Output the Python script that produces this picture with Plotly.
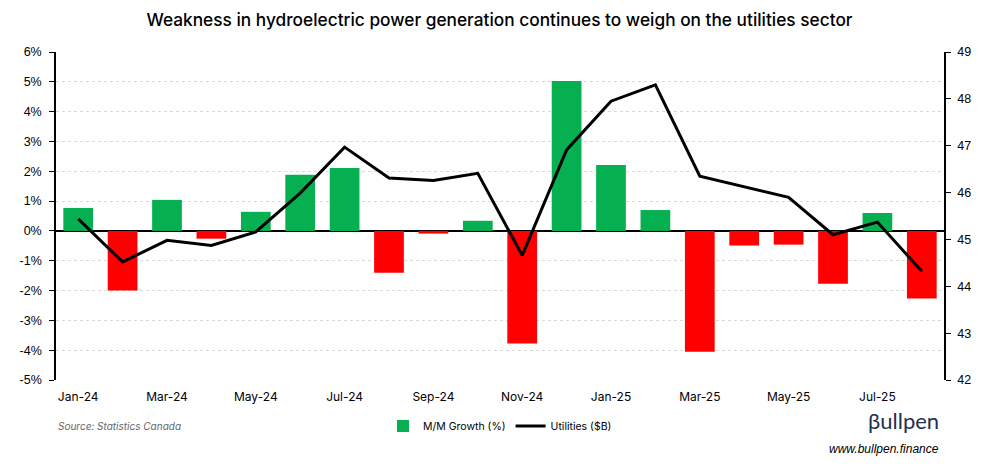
import plotly.graph_objects as go

months = ["Jan-24", "Feb-24", "Mar-24", "Apr-24", "May-24", "Jun-24", "Jul-24", "Aug-24",
          "Sep-24", "Oct-24", "Nov-24", "Dec-24", "Jan-25", "Feb-25", "Mar-25", "Apr-25",
          "May-25", "Jun-25", "Jul-25", "Aug-25"]
mm_growth = [0.77, -2.00, 1.04, -0.26, 0.64, 1.88, 2.11, -1.40, -0.09, 0.34,
             -3.78, 5.03, 2.21, 0.70, -4.05, -0.49, -0.46, -1.77, 0.60, -2.27]
utilities = [45.44, 44.52, 44.98, 44.87, 45.16, 45.99, 46.97, 46.31, 46.26, 46.41,
             44.66, 46.91, 47.95, 48.30, 46.35, 46.12, 45.90, 45.10, 45.37, 44.32]
tick_labels = months[::2]
left_ticks = list(range(-5, 7))
right_ticks = list(range(42, 50))

GREEN = "#06B050"
RED = "#FF0000"
bar_colors = [GREEN if v >= 0 else RED for v in mm_growth]

fig = go.Figure()
fig.add_trace(go.Bar(x=months, y=mm_growth, name="M/M Growth (%)",
                     marker=dict(color=bar_colors, line=dict(width=0)),
                     yaxis="y"))
fig.add_trace(go.Scatter(x=months, y=utilities, name="Utilities ($B)", mode="lines",
                         line=dict(color="black", width=3), yaxis="y2"))

fig.update_layout(
    width=983, height=463,
    margin=dict(l=41, r=47, t=44, b=91),
    paper_bgcolor="white", plot_bgcolor="white",
    bargap=0.33,
    title=dict(text="Weakness in hydroelectric power generation continues to weigh on the utilities sector",
               x=0.5, xanchor="center", y=0.974, yanchor="middle",
               font=dict(family="Inter", size=17.3, color="black", weight=500)),
    xaxis=dict(type="category", tickmode="array", tickvals=tick_labels, ticktext=tick_labels,
               showgrid=False, showline=False, ticks="", ticklen=0, ticklabelstandoff=8,
               tickfont=dict(family="Inter", size=12, color="black"),
               range=[-0.5, len(months) - 0.5]),
    yaxis=dict(range=[-5, 6], tickmode="array", tickvals=left_ticks,
               ticktext=[f"{v}%" for v in left_ticks],
               showgrid=True, gridcolor="#d9d9d9", griddash="dot", gridwidth=1,
               zeroline=True, zerolinecolor="black", zerolinewidth=1.5,
               showline=True, linecolor="black", linewidth=1.5,
               ticks="outside", ticklen=5, tickcolor="black", ticklabelstandoff=5,
               tickfont=dict(family="Liberation Sans", size=12.5, color="black")),
    yaxis2=dict(range=[42, 49], tickmode="array", tickvals=right_ticks,
                overlaying="y", side="right", showgrid=False, zeroline=False,
                showline=True, linecolor="black", linewidth=1.5,
                ticks="outside", ticklen=5, tickcolor="black", ticklabelstandoff=4,
                tickfont=dict(family="Liberation Sans", size=12.5, color="black")),
    legend=dict(orientation="h", x=0.5, xanchor="center", y=-0.14, yanchor="middle",
                font=dict(family="Inter", size=10.5, color="black"), traceorder="normal",
                itemwidth=30),
    showlegend=True,
)

fig.add_annotation(text="Source: Statistics Canada", xref="paper", yref="paper",
                   x=0.0, y=-0.14, xanchor="left", yanchor="middle", showarrow=False,
                   font=dict(family="Inter", size=10, color="#666666", style="italic"))
fig.add_annotation(text="<span style='color:#1f3050'>β</span>ullpen", xref="paper", yref="paper",
                   x=0.997, y=-0.122, xanchor="right", yanchor="middle", showarrow=False,
                   font=dict(family="Lato", size=22, color="#1f3050"))
fig.add_annotation(text="www.bullpen.finance", xref="paper", yref="paper",
                   x=0.997, y=-0.21, xanchor="right", yanchor="middle", showarrow=False,
                   font=dict(family="Liberation Sans", size=12, color="black", style="italic"))

fig.write_html("out.html")
